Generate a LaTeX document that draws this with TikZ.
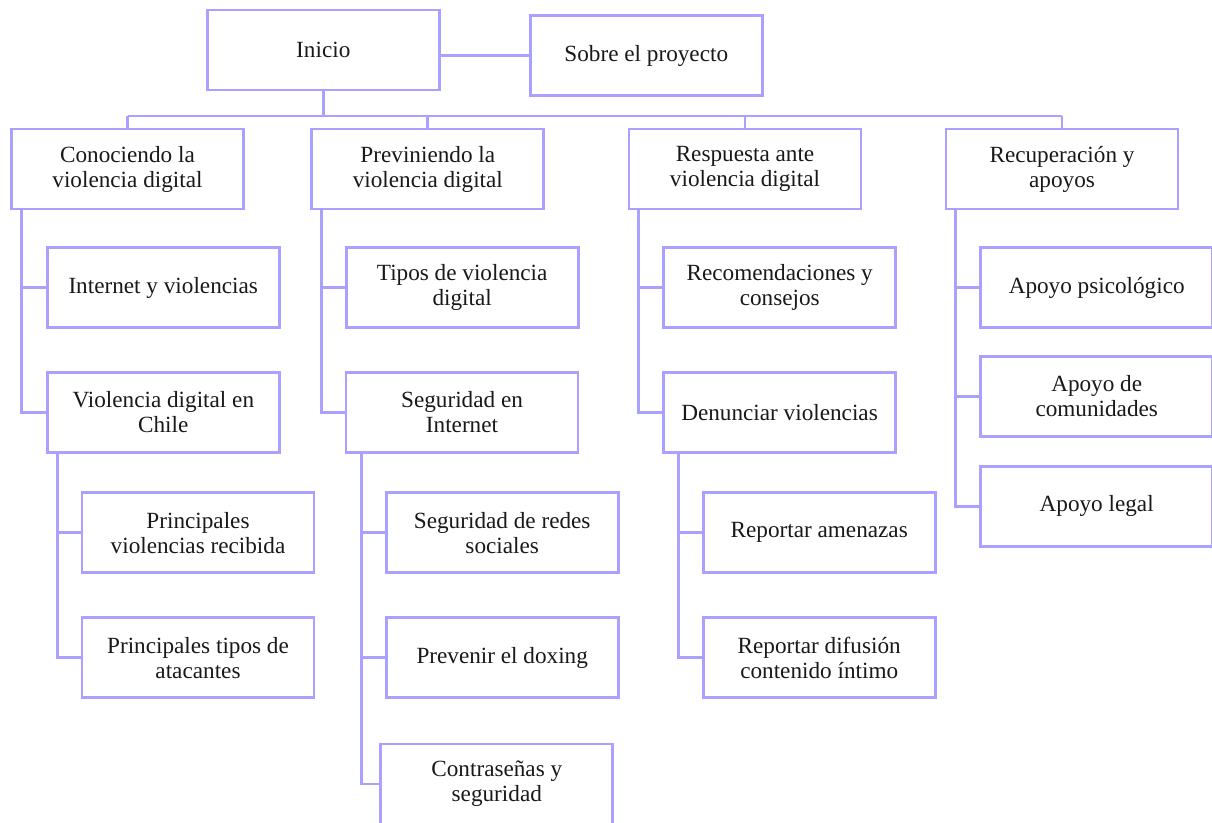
\documentclass[tikz,border=0pt]{standalone}
\usepackage{fontspec}
\setmainfont{Liberation Serif}
\definecolor{lav}{RGB}{170,160,255}
\definecolor{ink}{RGB}{25,25,25}
\tikzset{
  box/.style={draw=lav, line width=2.1pt, fill=white, minimum width=174pt, minimum height=60pt,
    inner sep=0pt, align=center, text=ink, font=\fontsize{17.4pt}{18.75pt}\selectfont},
  link/.style={draw=lav, line width=2.2pt}
}
\begin{document}
\begin{tikzpicture}[x=0.75pt,y=-0.75pt]
\useasboundingbox (0,0) rectangle (1212,822);
% top
\node[box] (inicio) at (323.3,50) {Inicio};
\node[box] (sobre) at (646.3,55.7) {Sobre el proyecto};
% level 1
\node[box] (c1) at (127.5,169) {Conociendo la\\violencia digital};
\node[box] (c2) at (427.8,169) {Previniendo la\\violencia digital};
\node[box] (c3) at (745,169) {Respuesta ante\\violencia digital};
\node[box] (c4) at (1062,169) {Recuperación y\\apoyos};
% column 1
\node[box] (c1a) at (163.2,287.7) {Internet y violencias};
\node[box] (c1b) at (163.3,412.5) {Violencia digital en\\Chile};
\node[box] (c1b1) at (198,532.8) {Principales\\violencias recibida};
\node[box] (c1b2) at (198,657.7) {Principales tipos de\\atacantes};
% column 2
\node[box] (c2a) at (462.2,287.7) {Tipos de violencia\\digital};
\node[box] (c2b) at (462,412.5) {Seguridad en\\Internet};
\node[box] (c2b1) at (502.2,532.8) {Seguridad de redes\\sociales};
\node[box] (c2b2) at (502.2,657.7) {Prevenir el doxing};
\node[box] (c2b3) at (496.8,784) {Contraseñas y\\seguridad};
% column 3
\node[box] (c3a) at (779.7,287.7) {Recomendaciones y\\consejos};
\node[box] (c3b) at (779.5,412.5) {Denunciar violencias};
\node[box] (c3b1) at (819.2,532.8) {Reportar amenazas};
\node[box] (c3b2) at (819.2,657.7) {Reportar difusión\\contenido íntimo};
% column 4
\node[box] (c4a) at (1096.7,287.7) {Apoyo psicológico};
\node[box] (c4b) at (1096.7,396.3) {Apoyo de\\comunidades};
\node[box] (c4c) at (1096.7,506.3) {Apoyo legal};

% connectors
\draw[link] (inicio.east |- sobre.west) -- (sobre.west);
\coordinate (busL) at (127.5,116);
\coordinate (busR) at (1062,116);
\draw[link] (busL) -- (busR);
\draw[link] (inicio.south) -- (inicio.south |- busL);
\foreach \n in {c1,c2,c3,c4} {
  \draw[link] (\n.north) -- (\n.north |- busL);
}
% trunks
\coordinate (t1) at ([xshift=8.5pt]c1.south west);
\coordinate (t2) at ([xshift=8pt]c2.south west);
\coordinate (t3) at ([xshift=8.25pt]c3.south west);
\coordinate (t4) at ([xshift=8.5pt]c4.south west);
\draw[link] (t1) |- (c1b.west);
\draw[link] (c1a.west) -- (c1a.west -| t1);
\draw[link] (t2) |- (c2b.west);
\draw[link] (c2a.west) -- (c2a.west -| t2);
\draw[link] (t3) |- (c3b.west);
\draw[link] (c3a.west) -- (c3a.west -| t3);
\draw[link] (t4) |- (c4c.west);
\draw[link] (c4a.west) -- (c4a.west -| t4);
\draw[link] (c4b.west) -- (c4b.west -| t4);
% sub-trunks
\coordinate (s1) at ([xshift=8.5pt]c1b.south west);
\coordinate (s2) at ([xshift=12.5pt]c2b.south west);
\coordinate (s3) at ([xshift=12.5pt]c3b.south west);
\draw[link] (s1) |- (c1b2.west);
\draw[link] (c1b1.west) -- (c1b1.west -| s1);
\draw[link] (s2) |- (c2b3.west);
\draw[link] (c2b1.west) -- (c2b1.west -| s2);
\draw[link] (c2b2.west) -- (c2b2.west -| s2);
\draw[link] (s3) |- (c3b2.west);
\draw[link] (c3b1.west) -- (c3b1.west -| s3);
\end{tikzpicture}
\end{document}
